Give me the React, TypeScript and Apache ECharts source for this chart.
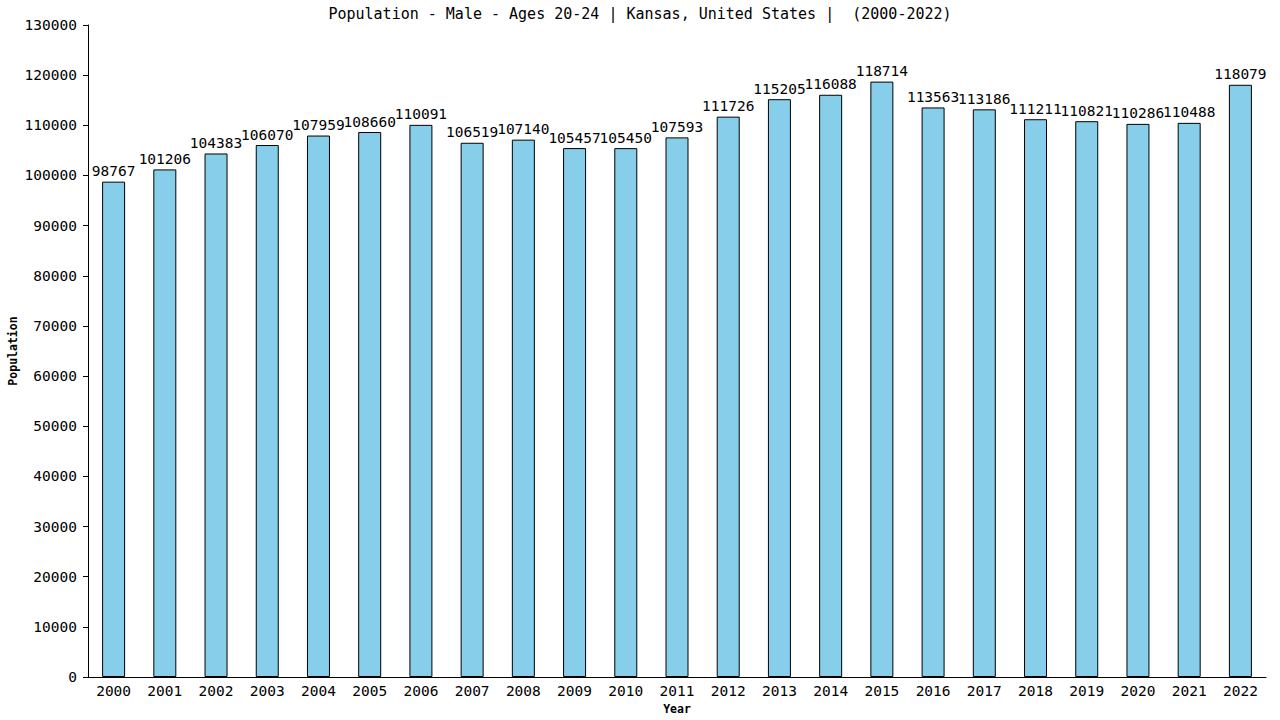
import React, { useEffect, useRef } from "react";
import * as echarts from "echarts";

const TITLE = "Population - Male - Ages 20-24 | Kansas, United States |  (2000-2022)";
const FONT = "DejaVu Sans Mono";

const years = [
  "2000", "2001", "2002", "2003", "2004", "2005", "2006", "2007", "2008", "2009", "2010", "2011",
  "2012", "2013", "2014", "2015", "2016", "2017", "2018", "2019", "2020", "2021", "2022",
];

const population = [
  98767, 101206, 104383, 106070, 107959, 108660, 110091, 106519, 107140, 105457, 105450, 107593,
  111726, 115205, 116088, 118714, 113563, 113186, 111211, 110821, 110286, 110488, 118079,
];

const App: React.FC = () => {
  const chartRef = useRef<HTMLDivElement>(null);

  useEffect(() => {
    if (!chartRef.current) return;
    const chart = echarts.init(chartRef.current, null, { renderer: "svg" });
    chart.setOption({
      animation: false,
      backgroundColor: "#ffffff",
      title: {
        text: TITLE,
        left: "center",
        top: 1,
        textStyle: { fontFamily: FONT, fontSize: 15, fontWeight: "normal", color: "#000" },
      },
      grid: {
        left: 88,
        right: 14,
        top: 25,
        bottom: 43,
        containLabel: false,
        outerBoundsMode: "none",
      },
      xAxis: {
        type: "category",
        data: years,
        name: "Year",
        nameLocation: "middle",
        nameGap: 26,
        nameMoveOverlap: false,
        nameTextStyle: { fontFamily: FONT, fontSize: 11.5, fontWeight: "bold", color: "#000" },
        axisLine: { lineStyle: { color: "#000", width: 1 } },
        axisTick: { show: false },
        axisLabel: { fontFamily: FONT, fontSize: 14.5, color: "#000", margin: 6 },
        splitLine: { show: false },
      },
      yAxis: {
        type: "value",
        min: 0,
        max: 130000,
        interval: 10000,
        name: "Population",
        nameLocation: "middle",
        nameGap: 69,
        nameMoveOverlap: false,
        nameTextStyle: { fontFamily: FONT, fontSize: 11.5, fontWeight: "bold", color: "#000" },
        axisLine: { show: true, lineStyle: { color: "#000", width: 1 } },
        axisTick: { show: true, length: 5, lineStyle: { color: "#000" } },
        axisLabel: {
          fontFamily: FONT,
          fontSize: 14.5,
          color: "#000",
          margin: 11,
          formatter: (v: number) => String(v),
        },
        splitLine: { show: false },
      },
      series: [
        {
          type: "bar",
          data: population,
          barWidth: 23,
          itemStyle: { color: "#87CEEB", borderColor: "#000", borderWidth: 1 },
          label: {
            show: true,
            position: "top",
            distance: 3,
            fontFamily: FONT,
            fontSize: 14.5,
            color: "#000",
          },
        },
      ],
    });
    return () => chart.dispose();
  }, []);

  return (
    <div
      ref={chartRef}
      style={{ position: "fixed", left: 0, top: 0, width: 1280, height: 720 }}
    />
  );
};

export default App;
